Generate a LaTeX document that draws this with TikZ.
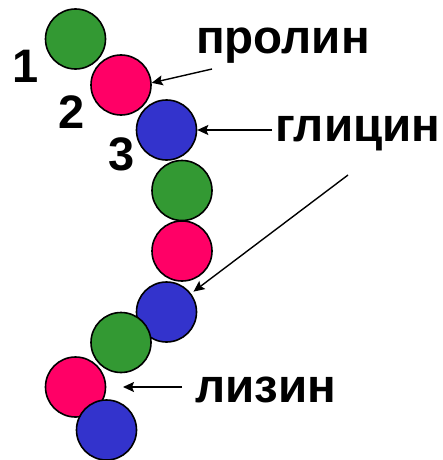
\documentclass[tikz,border=0pt]{standalone}
\usepackage{fontspec}
\setmainfont{Liberation Sans}
\usetikzlibrary{arrows.meta}
\definecolor{cgreen}{RGB}{51,153,51}
\definecolor{cpink}{RGB}{255,0,102}
\definecolor{cblue}{RGB}{51,51,204}
\tikzset{
  bead/.style={circle, draw=black, line width=1.6pt, minimum size=60pt, inner sep=0pt},
  gbead/.style={bead, fill=cgreen},
  pbead/.style={bead, fill=cpink},
  bbead/.style={bead, fill=cblue},
  lab/.style={font=\fontsize{47.5}{52}\selectfont\bfseries, inner sep=0pt, anchor=base west},
  num/.style={font=\fontsize{47}{52}\selectfont\bfseries, inner sep=0pt, anchor=base},
  arr/.style={-{Stealth[length=11pt,width=10pt,inset=2pt]}, line width=1.4pt, black}
}
\begin{document}
\begin{tikzpicture}[x=1pt,y=-1pt]
\useasboundingbox (0,0) rectangle (443,460);
\node[gbead] (c1) at (75.5,39) {};
\node[pbead] (c2) at (121,85) {};
\node[bbead] (c3) at (166.5,130) {};
\node[gbead] (c4) at (182,190.5) {};
\node[pbead] (c5) at (182,251) {};
\node[bbead] (c6) at (166.5,312) {};
\node[gbead] (c7) at (121,342.5) {};
\node[pbead] (c8) at (75.5,387) {};
\node[bbead] (c9) at (106.5,430) {};
\node[num] (n1) at (26,82) {1};
\node[num] (n2) at (71.5,128) {2};
\node[num] (n3) at (121.5,170) {3};
\node[lab] (prolin) at (196,53) {пролин};
\node[lab] (glicin) at (275,141) {глицин};
\node[lab] (lizin) at (195,402) {лизин};
\coordinate (a1) at (212,69);
\coordinate (a2) at (272,130);
\coordinate (a3) at (348,175);
\coordinate (a4) at (182,387);
\coordinate (e4) at (123,387);
\draw[arr] (a1) -- (c2.4);
\draw[arr] (a2) -- (c3.east);
\draw[arr, shorten >=3pt] (a3) -- (c6);
\draw[arr] (a4) -- (e4);
\end{tikzpicture}
\end{document}
